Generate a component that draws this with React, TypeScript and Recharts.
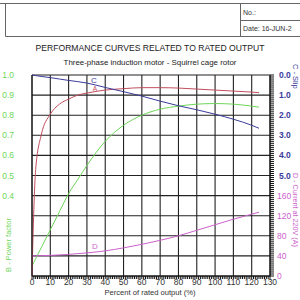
import { LineChart, Line, XAxis, YAxis, CartesianGrid } from 'recharts';

const pct = [0, 1, 2, 5, 10, 15, 20, 25, 30, 40, 50, 60, 70, 80, 90, 100, 110, 120, 124];
const efficiency = [0, 0.33, 0.53, 0.7, 0.805, 0.855, 0.88, 0.9, 0.91, 0.925, 0.932, 0.937, 0.937, 0.935, 0.93, 0.925, 0.92, 0.915, 0.912];
const powerFactor = [0.05, 0.068, 0.086, 0.14, 0.23, 0.32, 0.41, 0.48, 0.55, 0.67, 0.75, 0.8, 0.83, 0.845, 0.855, 0.858, 0.855, 0.845, 0.84];
const slip = [0, 0.01, 0.03, 0.07, 0.13, 0.2, 0.27, 0.33, 0.4, 0.62, 0.83, 1.05, 1.3, 1.53, 1.73, 1.95, 2.2, 2.5, 2.65];
const current = [40, 40, 40.2, 40.5, 41, 42, 43, 44.5, 46, 50, 56, 63, 71, 80, 91, 102, 113, 123, 127];

const xTicks = [0, 10, 20, 30, 40, 50, 60, 70, 80, 90, 100, 110, 120, 130];
const pfTicks = [0.4, 0.5, 0.6, 0.7, 0.8, 0.9, 1.0];
const currentTicks = [0, 40, 80, 120, 160];
const slipTicks = [0, 1, 2, 3, 4, 5];

// right axis runs 0..400 A-units; slip 0..10 (reversed) shares the same height
const rightMax = 400;
const slipMax = 10;
const minorX = Array.from({ length: 131 }, (_, i) => i);
const minorRight = Array.from({ length: 101 }, (_, i) => i * 4);
const gridRight = [0, 40, 80, 120, 160, 200, 240, 280, 320, 360, 400];

const rows = pct.map((p, i) => ({
  pct: p,
  eff: efficiency[i],
  pf: powerFactor[i],
  slip: slip[i],
  cur: current[i],
}));

const FONT = '"Liberation Sans", Arial, sans-serif';
const GREEN = '#6fd65a';
const RED = '#c24e5e';
const BLUE = '#3b3b9b';
const MAGENTA = '#cc62cc';

const XTick = (props: any) => {
  const { x, y, payload } = props;
  if (!xTicks.includes(payload.value)) return null;
  return (
    <text x={x} y={y} dy={3.5} textAnchor="middle" fontSize={8.5} fill="#333" fontFamily={FONT}>
      {payload.value}
    </text>
  );
};

const LeftTick = (props: any) => {
  const { x, y, payload } = props;
  return (
    <text x={x} y={y} dy={3} textAnchor="end" fontSize={8.5} fill={GREEN} fontFamily={FONT}>
      {payload.value.toFixed(1)}
    </text>
  );
};

const RightTick = (props: any) => {
  const { x, y, payload } = props;
  const v = payload.value;
  if (currentTicks.includes(v)) {
    return (
      <text x={x} y={y} dx={-2} dy={3} textAnchor="start" fontSize={8.5} fill={MAGENTA} fontFamily={FONT}>
        {v}
      </text>
    );
  }
  const s = slipTicks.find((t) => rightMax - (t * rightMax) / slipMax === v);
  if (s === undefined) return null;
  return (
    <text x={x} y={y} dy={3} textAnchor="start" fontSize={8.5} fill={BLUE} fontWeight="bold" fontFamily={FONT}>
      {s.toFixed(1)}
    </text>
  );
};

const letter = (ch: string, color: string, dx: number, dy: number, size: number) => (props: any) => {
  const { x, y, index } = props;
  if (index !== 8) return null;
  return (
    <text x={x + dx} y={y + dy} textAnchor="middle" fontSize={size} fill={color} fontFamily={FONT}>
      {ch}
    </text>
  );
};

export default function App() {
  return (
    <div style={{ position: 'absolute', left: 0, top: 0, width: 300, height: 300, background: '#fff', overflow: 'hidden' }}>
      <LineChart width={300} height={300} data={rows} margin={{ top: 75, right: 0, bottom: 0, left: 0 }}>
        <CartesianGrid
          xAxisId="x"
          yAxisId="right"
          stroke="#222"
          strokeWidth={1.1}
          verticalValues={xTicks}
          horizontalValues={gridRight}
        />
        <XAxis
          xAxisId="x"
          dataKey="pct"
          type="number"
          domain={[0, 130]}
          ticks={minorX}
          interval={0}
          height={24}
          tickSize={3}
          tickMargin={2}
          tick={XTick}
          stroke="#111"
        />
        <YAxis
          yAxisId="pf"
          orientation="left"
          width={32}
          domain={[0, 1]}
          ticks={pfTicks}
          interval={0}
          tickLine={false}
          tickSize={0}
          tickMargin={18}
          tick={LeftTick}
          stroke="#111"
        />
        <YAxis
          yAxisId="right"
          orientation="right"
          width={30}
          domain={[0, rightMax]}
          ticks={minorRight}
          interval={0}
          tickSize={4}
          tickMargin={5}
          tick={RightTick}
          stroke="#111"
        />
        <YAxis yAxisId="slip" hide domain={[0, slipMax]} reversed />
        <Line
          xAxisId="x"
          yAxisId="pf"
          type="monotone"
          dataKey="pf"
          stroke={GREEN}
          strokeWidth={1}
          dot={false}
          isAnimationActive={false}
        />
        <Line
          xAxisId="x"
          yAxisId="pf"
          type="monotone"
          dataKey="eff"
          stroke={RED}
          strokeWidth={1}
          dot={false}
          isAnimationActive={false}
          label={letter('A', RED, 8, -2.5, 6.5)}
        />
        <Line
          xAxisId="x"
          yAxisId="slip"
          type="monotone"
          dataKey="slip"
          stroke={BLUE}
          strokeWidth={1}
          dot={false}
          isAnimationActive={false}
          label={letter('C', BLUE, 7, 0, 8)}
        />
        <Line
          xAxisId="x"
          yAxisId="right"
          type="monotone"
          dataKey="cur"
          stroke={MAGENTA}
          strokeWidth={1}
          dot={false}
          isAnimationActive={false}
          label={letter('D', MAGENTA, 8, -4, 8)}
        />
      </LineChart>
      <svg width={300} height={300} style={{ position: 'absolute', left: 0, top: 0, pointerEvents: 'none' }}>
        <g stroke="#666" strokeWidth={1} fill="none">
          <line x1={0} y1={3.5} x2={300} y2={3.5} />
          <line x1={5.5} y1={3.5} x2={5.5} y2={36.5} />
          <line x1={240.5} y1={3.5} x2={240.5} y2={36.5} />
          <line x1={240.5} y1={20.5} x2={300} y2={20.5} />
          <line x1={5.5} y1={36.5} x2={300} y2={36.5} />
        </g>
        <text x={243} y={15} fontSize={7} fill="#333" fontFamily={FONT}>No.:</text>
        <text x={243} y={31} fontSize={7} fill="#333" fontFamily={FONT}>Date:  16-JUN-2</text>
        <text x={150} y={51} textAnchor="middle" fontSize={8.6} fill="#222" fontFamily={FONT}>
          PERFORMANCE CURVES RELATED TO RATED OUTPUT
        </text>
        <text x={150} y={65} textAnchor="middle" fontSize={7.9} fill="#222" fontFamily={FONT}>
          Three-phase induction motor - Squirrel cage rotor
        </text>
        <text x={150} y={294.5} textAnchor="middle" fontSize={7.6} fill="#333" fontFamily={FONT}>
          Percent of rated output (%)
        </text>
        <text
          transform="translate(11,245) rotate(-90)"
          textAnchor="middle"
          fontSize={7.5}
          fill={GREEN}
          fontFamily={FONT}
        >
          B - Power factor
        </text>
        <text
          transform="translate(293,64) rotate(90)"
          textAnchor="start"
          fontSize={7.5}
          fill={BLUE}
          fontFamily={FONT}
        >
          C - Slip
        </text>
        <text
          transform="translate(293,173) rotate(90)"
          textAnchor="start"
          fontSize={7.2}
          fill={MAGENTA}
          fontFamily={FONT}
        >
          D - Current at 220V (A)
        </text>
      </svg>
    </div>
  );
}
